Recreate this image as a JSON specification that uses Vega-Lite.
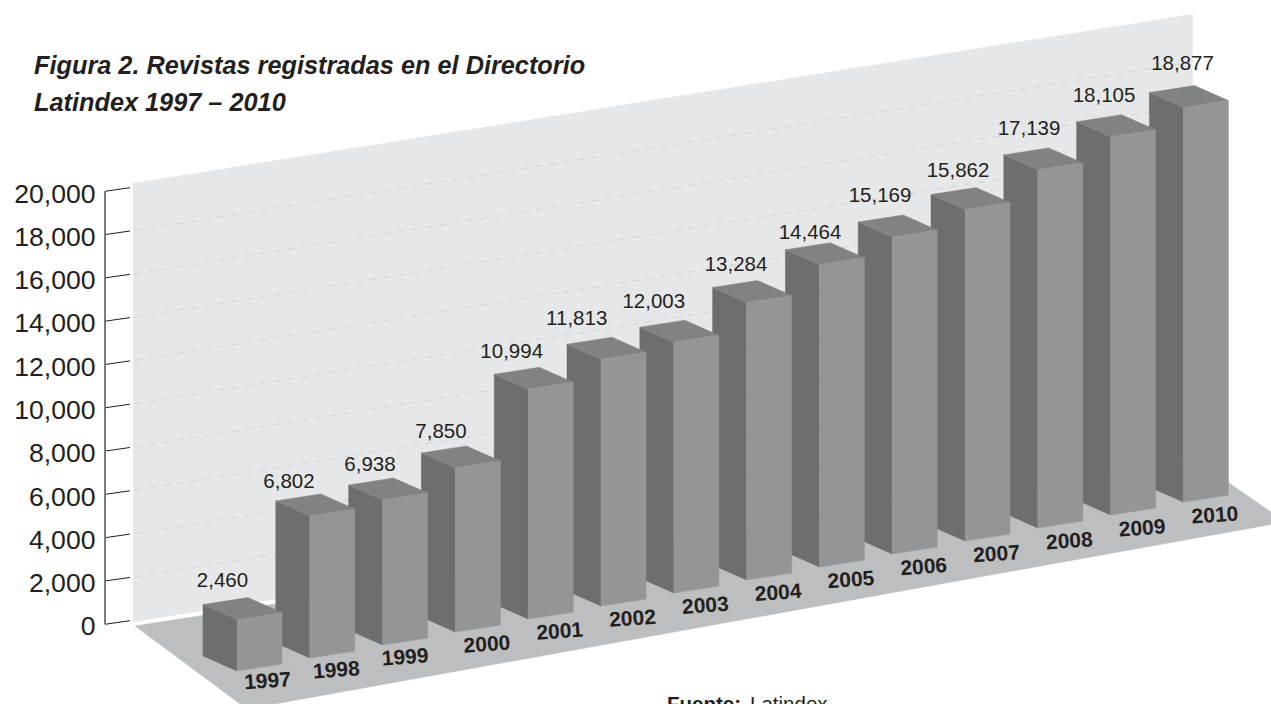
{"$schema":"https://vega.github.io/schema/vega-lite/v6.json","autosize":"none","padding":0,"width":1271,"height":704,"background":"white","config":{"view":{"stroke":null}},
"title":{"text":["Figura 2. Revistas registradas en el Directorio","Latindex 1997 – 2010"],"anchor":"start","frame":"group","align":"left","dx":34,"dy":120,"font":"Liberation Sans","fontSize":25.3,"fontStyle":"italic","fontWeight":"bold","color":"#231f20","lineHeight":37},
"datasets":{
"bars":[{"year":1997,"value":2460},{"year":1998,"value":6802},{"year":1999,"value":6938},{"year":2000,"value":7850},{"year":2001,"value":10994},{"year":2002,"value":11813},{"year":2003,"value":12003},{"year":2004,"value":13284},{"year":2005,"value":14464},{"year":2006,"value":15169},{"year":2007,"value":15862},{"year":2008,"value":17139},{"year":2009,"value":18105},{"year":2010,"value":18877}],
"ticks":[{"level":0},{"level":2000},{"level":4000},{"level":6000},{"level":8000},{"level":10000},{"level":12000},{"level":14000},{"level":16000},{"level":18000},{"level":20000}]},
"encoding":{
"x":{"field":"u","type":"quantitative","scale":{"domain":[1993.7445,2011.2033],"nice":false,"zero":false},"axis":null},
"y":{"field":"v","type":"quantitative","scale":{"domain":[-3557,28961],"nice":false,"zero":false},"axis":{"title":null,"values":[0,2000,4000,6000,8000,10000,12000,14000,16000,18000,20000],"format":",d","domain":false,"ticks":false,"grid":false,"offset":-95,"labelPadding":0,"labelFont":"Liberation Sans","labelFontSize":26.6,"labelColor":"#231f20","labelOverlap":false,"labelBound":false,"labelFlush":false}}},
"layer":[
{"data":{"values":[{"u":1995.571,"v":231,"v2":20508},{"u":2010.128,"v":8037,"v2":28314}]},"mark":{"type":"area","fill":"#e6e7e8","opacity":1},"encoding":{"y2":{"field":"v2"}}},
{"data":{"values":[{"u":1995.599,"v":46,"n":0},{"u":2010.159,"v":7760,"n":1},{"u":2011.396,"v":4850,"n":2},{"u":1997.137,"v":-3788,"n":3}]},"mark":{"type":"line","interpolate":"linear-closed","fill":"#bcbec0","stroke":"#bcbec0","strokeWidth":0.5,"clip":true},"encoding":{"order":{"field":"n","type":"quantitative"}}},
{"data":{"name":"ticks"},"transform":[{"filter":"datum.level>0 && datum.level<20000"},{"calculate":"1995.599","as":"u"},{"calculate":"datum.level+314","as":"v"},{"calculate":"2010.128","as":"u2"},{"calculate":"datum.level+8102","as":"v2"}],"mark":{"type":"rule","stroke":"#d1d3d4","strokeWidth":1,"strokeDash":[7,7]},"encoding":{"x2":{"field":"u2"},"y2":{"field":"v2"}}},
{"data":{"name":"ticks"},"transform":[{"calculate":"1995.187","as":"u"},{"calculate":"datum.level+125","as":"v"},{"calculate":"1995.53","as":"u2"},{"calculate":"datum.level+291","as":"v2"}],"mark":{"type":"rule","stroke":"#231f20","strokeWidth":1},"encoding":{"x2":{"field":"u2"},"y2":{"field":"v2"}}},
{"data":{"values":[{"u":1995.187,"v":125,"v2":20125}]},"mark":{"type":"rule","stroke":"#6d6e71","strokeWidth":1.8},"encoding":{"y2":{"field":"v2"}}},
{"data":{"name":"bars"},"transform":[{"calculate":"[0,1,2,3]","as":"n"},{"flatten":["n"]},{"calculate":"-2032+600.5*(datum.year-1997)","as":"b"},{"calculate":"datum.value*0.965","as":"h"},{"calculate":"datum.year-0.467*((datum.n==1||datum.n==2)?1:0)","as":"u"},{"calculate":"datum.b+693*((datum.n==1||datum.n==2)?1:0)+datum.h*((datum.n==2||datum.n==3)?1:0)","as":"v"}],"mark":{"type":"line","interpolate":"linear-closed","fill":"#6d6e71","stroke":"#6d6e71","strokeWidth":0.5},"encoding":{"order":{"field":"n","type":"quantitative"},"detail":{"field":"year","type":"nominal"}}},
{"data":{"name":"bars"},"transform":[{"calculate":"[0,1,2,3]","as":"n"},{"flatten":["n"]},{"calculate":"-2032+600.5*(datum.year-1997)","as":"b"},{"calculate":"datum.value*0.965","as":"h"},{"calculate":"datum.year+[0,0.618,0.151,-0.467][datum.n]","as":"u"},{"calculate":"datum.b+datum.h+[0,323,1016,693][datum.n]","as":"v"}],"mark":{"type":"line","interpolate":"linear-closed","fill":"#808285","stroke":"#808285","strokeWidth":0.5},"encoding":{"order":{"field":"n","type":"quantitative"},"detail":{"field":"year","type":"nominal"}}},
{"data":{"name":"bars"},"transform":[{"calculate":"[0,1,2,3]","as":"n"},{"flatten":["n"]},{"calculate":"-2032+600.5*(datum.year-1997)","as":"b"},{"calculate":"datum.value*0.965","as":"h"},{"calculate":"datum.year+0.618*((datum.n==1||datum.n==2)?1:0)","as":"u"},{"calculate":"datum.b+323*((datum.n==1||datum.n==2)?1:0)+datum.h*((datum.n==2||datum.n==3)?1:0)","as":"v"}],"mark":{"type":"line","interpolate":"linear-closed","fill":"#939598","stroke":"#939598","strokeWidth":0.5},"encoding":{"order":{"field":"n","type":"quantitative"},"detail":{"field":"year","type":"nominal"}}},
{"data":{"name":"bars"},"transform":[{"calculate":"-2032+600.5*(datum.year-1997)+datum.value*0.965","as":"t"},{"calculate":"datum.year+[-14.5,-20.8,-12.6,-14.4,-16.5,-24.3,-20,-10.6,-9.4,-12.2,-7,-8.8,-6.6,-0.9][datum.year-1997]/72.8","as":"u"},{"calculate":"datum.t+[38.6,33.8,35,36,37.2,40,40,37.4,31.7,41,38.5,40.8,40.6,43.5][datum.year-1997]/0.02165","as":"v"}],"mark":{"type":"text","font":"Liberation Sans","fontSize":20.5,"fill":"#231f20","align":"center","baseline":"middle"},"encoding":{"text":{"field":"value","type":"quantitative","format":",d"}}},
{"data":{"name":"bars"},"transform":[{"calculate":"datum.year+0.434+[-1,-5,-9,0,0,0,0,0,0,0,0,0,0,0][datum.year-1997]/72.8","as":"u"},{"calculate":"5127-596*(2010-datum.year)+(datum.year==1997?92:0)","as":"v"}],"mark":{"type":"text","font":"Liberation Sans","fontSize":21,"fontWeight":"bold","fill":"#231f20","align":"center","baseline":"middle","angle":356},"encoding":{"text":{"field":"year","type":"nominal"}}},
{"data":{"values":[{"note":"Fuente:"}]},"transform":[{"calculate":"2002.907","as":"u"},{"calculate":"-3880","as":"v"}],"mark":{"type":"text","font":"Liberation Sans","fontSize":20.5,"fontWeight":"bold","fill":"#231f20","align":"left","baseline":"alphabetic"},"encoding":{"text":{"field":"note"}}},
{"data":{"values":[{"note":"Latindex"}]},"transform":[{"calculate":"2004.047","as":"u"},{"calculate":"-3880","as":"v"}],"mark":{"type":"text","font":"Liberation Sans","fontSize":20.5,"fill":"#231f20","align":"left","baseline":"alphabetic"},"encoding":{"text":{"field":"note"}}}
]}
